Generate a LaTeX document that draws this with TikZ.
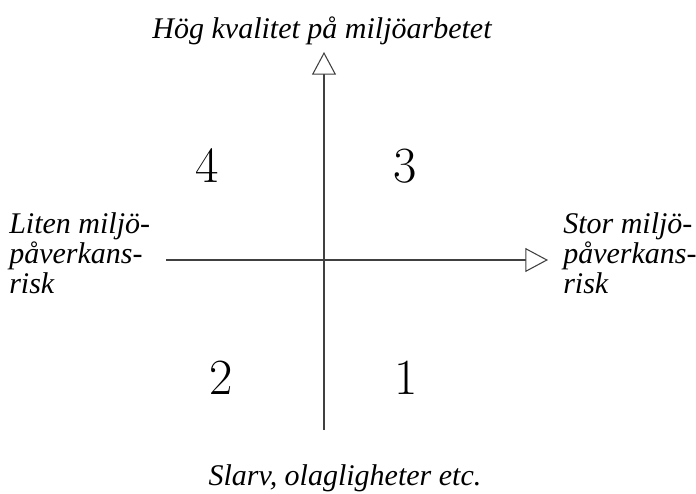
\documentclass[tikz,border=0pt]{standalone}
\usepackage{fontspec}
\setmainfont{Liberation Serif}
\newfontfamily\numfont{Latin Modern Roman}
\usetikzlibrary{arrows.meta}
\tikzset{
  axis/.style={line width=1.1pt, black!75, -{Triangle[open, length=17pt, width=18pt, fill=white, line width=0.8pt]}},
  axislabel/.style={font=\fontsize{22.5pt}{22.5pt}\selectfont\itshape, inner sep=0pt},
  sidelabel/.style={axislabel, align=left, anchor=north west},
  quadnum/.style={font=\numfont\fontsize{38pt}{40pt}\selectfont, inner sep=0pt},
}

\begin{document}
\begin{tikzpicture}[x=0.75pt,y=-0.75pt]
        \useasboundingbox (0,0) rectangle (696,493);
        % axes
        \coordinate (top) at (324,52);
        \coordinate (bottom) at (324,430);
        \coordinate (left) at (166,260);
        \coordinate (right) at (548,260);
        \draw[axis] (bottom) -- (top);
        \draw[axis] (left) -- (right);

        % axis labels
        \node[axislabel, anchor=base] (quality) at (322,38) {Hög kvalitet på miljöarbetet};
        \node[axislabel, anchor=base] (sloppy) at (345,485) {Slarv, olagligheter etc.};
        \node[sidelabel] (smallrisk) at (9,212) {Liten miljö-\\påverkans-\\risk};
        \node[sidelabel] (bigrisk) at (563,212) {Stor miljö-\\påverkans-\\risk};

        % quadrants
        \node[quadnum] (q4) at (207,166) {4};
        \node[quadnum] (q3) at (405,166) {3};
        \node[quadnum] (q2) at (221,378) {2};
        \node[quadnum] (q1) at (406,378) {1};
\end{tikzpicture}
\end{document}
